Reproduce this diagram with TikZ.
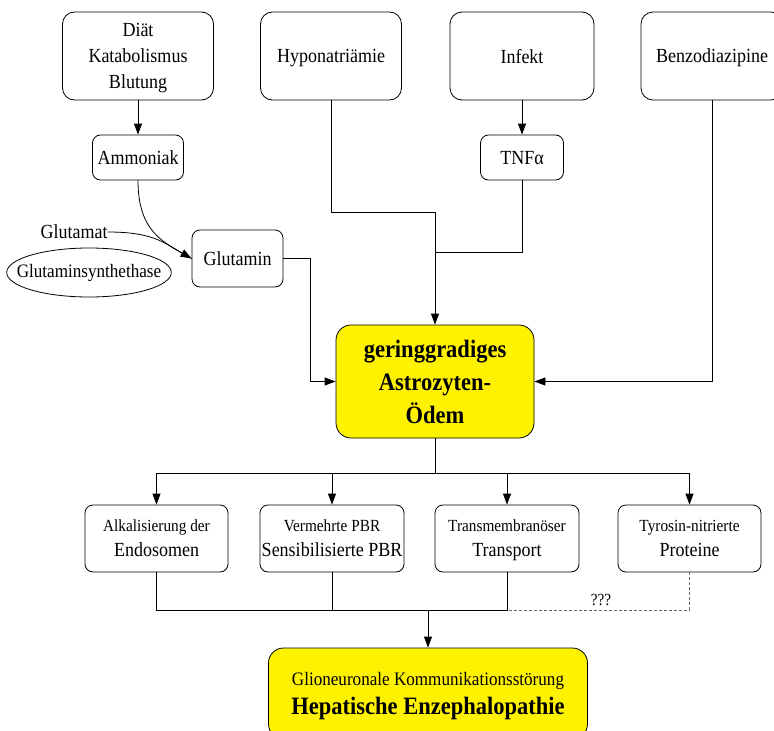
\documentclass[tikz,border=0pt]{standalone}
\usepackage{fontspec}
\setmainfont{Liberation Serif}[FakeStretch=0.9]
\usetikzlibrary{arrows.meta,shapes.geometric}

\begin{document}
\begin{tikzpicture}[x=1pt, y=-1pt, >={Triangle[length=11pt,width=8pt]},
    box/.style={draw, line width=0.8pt, rounded corners=12pt, align=center, inner sep=0pt,
        text depth=0pt, font=\fontsize{20}{26}\selectfont},
    smallbox/.style={box, rounded corners=8pt},
    hot/.style={box, fill=yellow, rounded corners=15pt},
    link/.style={line width=0.8pt}]
    \useasboundingbox (0,0) rectangle (774,731);
    \clip (0,0) rectangle (774,731);

    % causes
    \node[box, minimum width=151pt, minimum height=88pt] (diaet) at (138,56) {Diät\\Katabolismus\\Blutung};
    \node[box, minimum width=141pt, minimum height=88pt] (hypo) at (331,56) {Hyponatriämie};
    \node[box, minimum width=144pt, minimum height=88pt] (infekt) at (522,56) {Infekt};
    \node[box, minimum width=142pt, minimum height=88pt] (benzo) at (712,56) {Benzodiazipine};

    \node[smallbox, minimum width=91pt, minimum height=45pt] (ammoniak) at (138,157.5) {Ammoniak};
    \node[smallbox, minimum width=83pt, minimum height=45pt] (tnf) at (522,157.5) {TNFα};
    \node[smallbox, minimum width=91pt, minimum height=57pt] (glutamin) at (237.5,258.5) {Glutamin};
    \node[inner sep=0pt, font=\fontsize{20}{26}\selectfont] (glutamat) at (74,232) {Glutamat};
    \node[draw, ellipse, line width=0.8pt, inner xsep=-14pt, inner ysep=0pt, minimum height=49pt,
        font=\fontsize{19}{24}\selectfont] (gs) at (89,272.5) {Glutaminsynthethase};

    % oedema
    \node[hot, minimum width=198pt, minimum height=113pt, font=\bfseries\fontsize{25}{33}\selectfont]
        (oedem) at (435,381.5) {geringgradiges\\Astrozyten-\\Ödem};

    % effects
    \tikzset{effect/.style={smallbox, minimum width=143pt, minimum height=67pt,
        font=\fontsize{20}{25}\selectfont}}
    \node[effect] (alk) at (156.5,538.5)
        {{\fontsize{17}{25}\selectfont Alkalisierung der}\\Endosomen};
    \node[effect, minimum width=144pt] (pbr) at (332,538.5)
        {{\fontsize{17}{25}\selectfont Vermehrte PBR}\\Sensibilisierte PBR};
    \node[effect, minimum width=144pt] (trans) at (507,538.5)
        {{\fontsize{17}{25}\selectfont Transmembranöser}\\Transport};
    \node[effect] (tyr) at (689.5,538.5)
        {{\fontsize{17}{25}\selectfont Tyrosin-nitrierte}\\Proteine};

    \node[hot, minimum width=319pt, minimum height=91pt, font=\fontsize{19}{29}\selectfont]
        (he) at (428,693.5)
        {Glioneuronale Kommunikationsstörung\\
         {\bfseries\fontsize{25}{29}\selectfont Hepatische Enzephalopathie}};

    \coordinate (j1) at (435,212); \coordinate (j2) at (435,252);
    \coordinate (split) at (435,473); \coordinate (merge) at (428,610);

    % connectors
    \draw[link,->] (diaet.south) -- (ammoniak.north);
    \draw[link,->] (infekt.south) -- (tnf.north);
    \draw[link] (ammoniak.south) .. controls +(0,52) and +(-28,-16) .. (glutamin.west);
    \draw[link,->] (glutamat.east) .. controls +(45,0) and +(-28,-16) .. (glutamin.west);
    \draw[link,->] (glutamin.east) -- ++(27,0) |- (oedem.west);
    \draw[link] (hypo.south) |- (j1);
    \draw[link] (tnf.south) |- (j2);
    \draw[link,->] (j1) -- (oedem.north);
    \draw[link,->] (benzo.south) |- (oedem.east);

    \foreach \b in {alk,pbr,trans,tyr} \draw[link,->] (oedem.south) -- (split) -| (\b.north);

    \draw[link, densely dashed, black!60] (tyr.south) |- (merge);
    \foreach \b in {alk,pbr,trans} \draw[link] (\b.south) |- (merge);
    \node[font=\fontsize{17}{20}\selectfont] (qqq) at (601,600) {???};
    \draw[link,->] (merge) -- (he.north);
\end{tikzpicture}
\end{document}
